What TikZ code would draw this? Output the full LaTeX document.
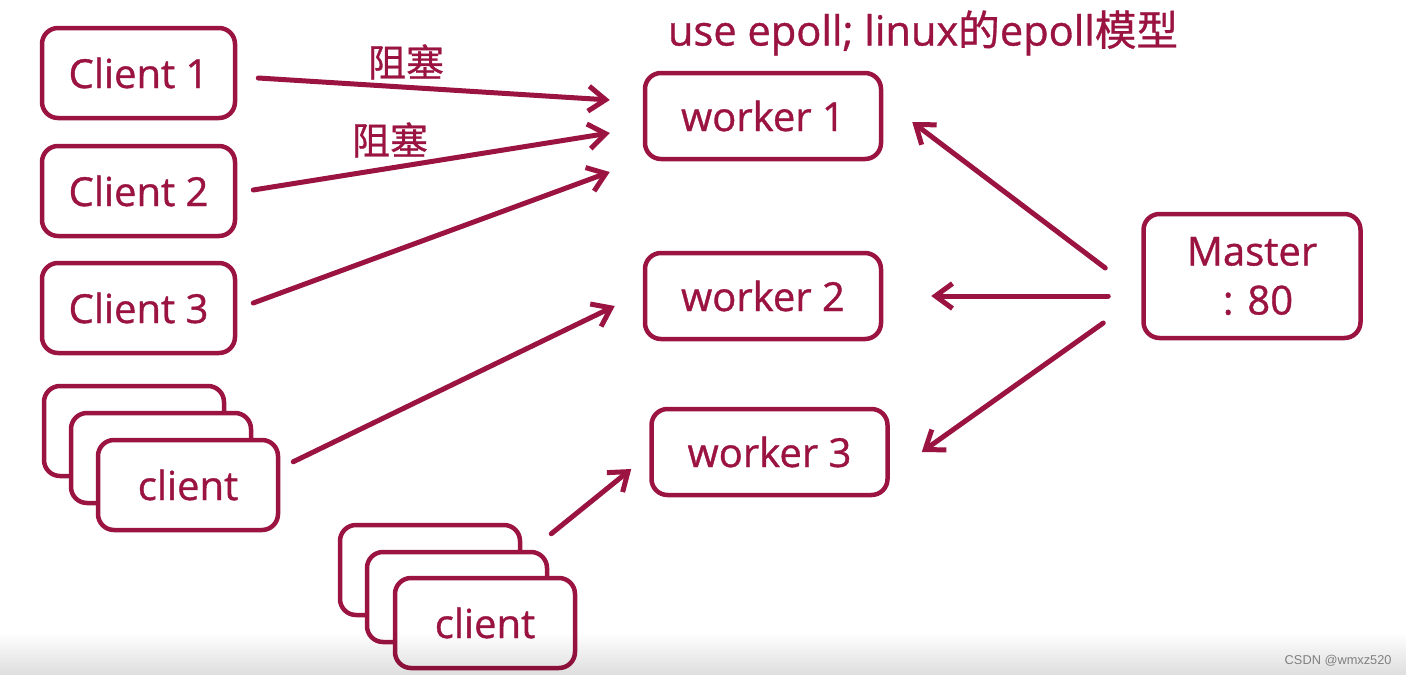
\documentclass[tikz,border=0pt]{standalone}
\usepackage{fontspec}
\setmainfont{Open Sans}[FakeBold=0.9]
\newfontfamily\cjk{Noto Sans CJK SC}[FakeBold=0.7]
\newfontfamily\wmfont{Liberation Sans}
\usetikzlibrary{calc}
\usetikzlibrary{arrows.meta,fadings}
\definecolor{crim}{RGB}{155,20,65}

\begin{document}
\begin{tikzpicture}[x=0.5pt,y=-0.5pt,>={Straight Barb[length=8.5pt,width=12.5pt]},
        box/.style={draw=crim,line width=2.25pt,rounded corners=8pt,fill=white,text=crim,
            font=\fontsize{20}{24.5}\selectfont,align=center,inner sep=0pt},
        stackbox/.style={box,minimum width=90pt,minimum height=45pt},
        arr/.style={->,draw=crim,line width=2.5pt,line cap=round},
        lbl/.style={text=crim,font=\cjk\fontsize{19}{22}\selectfont}]
        \fill[white](0,0)rectangle(1407,675);
        \useasboundingbox(0,0)rectangle(1407,675);
        % title
        \node[text=crim,font=\fontsize{20.8}{24}\selectfont](ttl)at(923,33){use epoll; linux{\cjk 的}epoll{\cjk 模型}};
        % clients
        \node[box,minimum width=96.5pt,minimum height=45pt](c1)at(138.5,73){Client 1};
        \node[box,minimum width=96.5pt,minimum height=45pt](c2)at(138.5,191){Client 2};
        \node[box,minimum width=96.5pt,minimum height=45pt](c3)at(138.5,308){Client 3};
        \node[stackbox](cs1c)at(134,431){};
        \node[stackbox](cs1b)at(161,458){};
        \node[stackbox](cs1)at(188,485){client};
        \node[stackbox](cs2c)at(430,570){};
        \node[stackbox](cs2b)at(457,597){};
        \node[stackbox](cs2)at(485,623){client};
        % workers and master
        \node[box,minimum width=118pt,minimum height=43pt](w1)at(763,116){worker 1};
        \node[box,minimum width=118pt,minimum height=43pt](w2)at(763,296){worker 2};
        \node[box,minimum width=118pt,minimum height=43pt](w3)at(769.5,452){worker 3};
        \node[box,minimum width=108.5pt,minimum height=62pt](m)at(1252,276){Master\\\hspace{6pt}: 80};
        % connections
        \draw[arr]($(c1.east)+(21,5)$)--($(w1.west)+(-33,-16)$);
        \draw[arr]($(c2.east)+(16,-1)$)--($(w1.west)+(-33,17)$);
        \draw[arr]($(c3.east)+(16,-5)$)--($(w1.west)+(-33,56)$);
        \draw[arr]($(cs1.north east)+(13,24)$)--($(w2.west)+(-28,10)$);
        \draw[arr]($(cs2.north east)+(-26,-42)$)--($(w3.west)+(-18,17)$);
        \draw[arr]($(m.west)+(-36,-8)$)--($(w1.east)+(29,6)$);
        \draw[arr]($(m.west)+(-33,20)$)--($(w2.east)+(48,0)$);
        \draw[arr]($(m.west)+(-38,47)$)--($(w3.east)+(32,0)$);
        \node[lbl](b1)at(406,62){阻塞};
        \node[lbl](b2)at(390,140){阻塞};
        % screenshot footer
        \fill[black,opacity=0.13,path fading=north](0,632)rectangle(1407,675);
        \node[text=gray,inner sep=0pt,font=\wmfont\fontsize{6.4}{8}\selectfont,anchor=east](wm)at(1392,661){CSDN @wmxz520};
    \end{tikzpicture}
\end{document}
